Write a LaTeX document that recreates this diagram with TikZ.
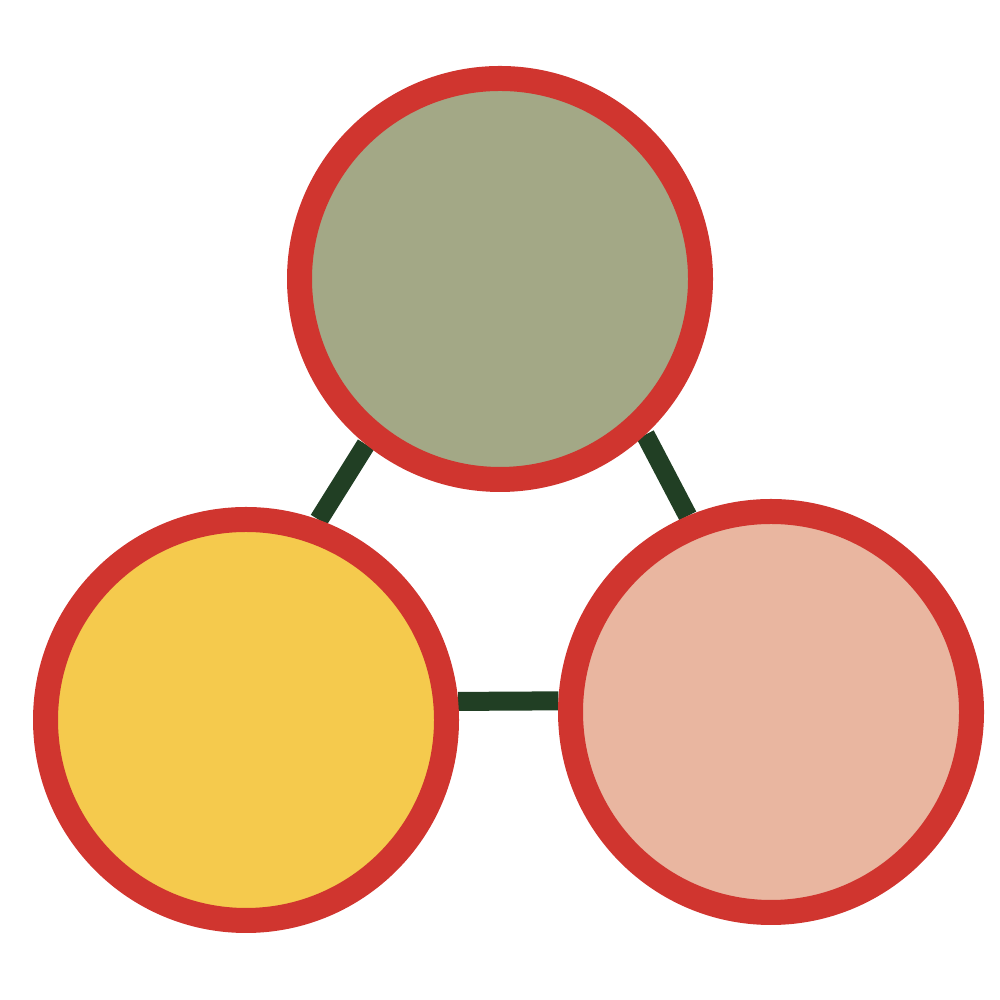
\documentclass[tikz,border=0pt]{standalone}
\usepackage{tikz}
\usetikzlibrary{backgrounds}

\definecolor{ringred}{HTML}{D0352F}
\definecolor{linkgreen}{HTML}{213F24}
\definecolor{sage}{HTML}{A3A886}
\definecolor{mustard}{HTML}{F5CA4D}
\definecolor{peach}{HTML}{E9B6A0}

\begin{document}
\begin{tikzpicture}[
    ring/.style={circle,draw=ringred,line width=0.25cm,minimum size=4.01cm,inner sep=0pt},
    link/.style={draw=linkgreen,line width=0.19cm}
  ]
    \useasboundingbox (0,0) rectangle (10,10);
    %% Nodes
    \node[ring,fill=sage] (top) at (5.00,7.21) {};
    \node[ring,fill=mustard] (left) at (2.46,2.80) {};
    \node[ring,fill=peach] (right) at (7.71,2.88) {};
    %% Links, drawn behind the rings
    \begin{scope}[on background layer]
    \draw[link] (top.231) -- (left.70);
    \draw[link] (top.313) -- (right.113);
    \draw[link] (left.5) -- (right.177);
    \end{scope}
  \end{tikzpicture}
\end{document}
